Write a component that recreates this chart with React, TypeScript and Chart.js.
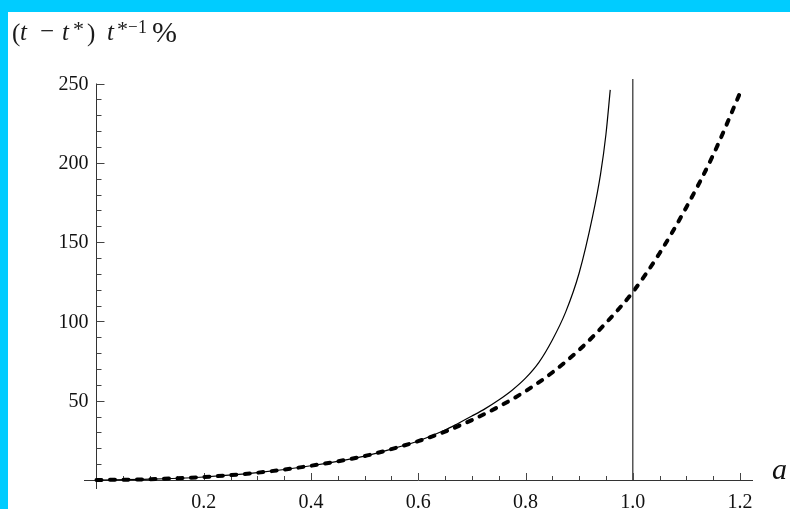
import React, { useEffect, useRef } from "react";
import { Chart, registerables } from "chart.js";

Chart.register(...registerables);

// ---- data ----
const DASHED_X = [0, 0.1, 0.2, 0.3, 0.4, 0.5, 0.55, 0.6, 0.65, 0.7, 0.75, 0.8, 0.85, 0.9, 0.95, 1.0, 1.05, 1.1, 1.15, 1.2];
const DASHED_Y = [0, 0.5, 1.9, 4.6, 9.0, 15.1, 19.5, 24.5, 30.5, 37.8, 46.2, 56, 67.8, 82, 99, 118.5, 143, 172, 205, 244];

const SOLID_X = [0, 0.1, 0.2, 0.3, 0.4, 0.5, 0.55, 0.6, 0.65, 0.675, 0.7, 0.725, 0.75, 0.775, 0.8, 0.825, 0.85, 0.875, 0.9, 0.925, 0.94, 0.95, 0.958];
const SOLID_Y = [0, 0.5, 1.9, 4.6, 9.0, 15.1, 19.5, 24.6, 31.5, 35.8, 40.3, 45, 50.4, 56.6, 64.2, 74.2, 88.3, 106, 130.5, 166, 193, 218, 246];

const VLINE_X = [1.0, 1.0];
const VLINE_Y = [0, 252.8];

const X_TICKS = [0.2, 0.4, 0.6, 0.8, 1.0, 1.2];
const X_TICK_LABELS = ["0.2", "0.4", "0.6", "0.8", "1.0", "1.2"];
const Y_TICKS = [50, 100, 150, 200, 250];
const Y_TICK_LABELS = ["50", "100", "150", "200", "250"];

const X_LABEL = "a";

const CYAN = "rgb(0,204,255)";
const SERIF = "'Liberation Serif', 'DejaVu Serif', serif";

const zip = (xs: number[], ys: number[]) => xs.map((x, i) => ({ x, y: ys[i] }));

const decorPlugin = {
  id: "decor",
  beforeDraw(chart: any) {
    const ctx = chart.ctx;
    ctx.save();
    ctx.fillStyle = CYAN;
    ctx.fillRect(0, 0, chart.width, chart.height);
    ctx.fillStyle = "#ffffff";
    ctx.fillRect(8, 12, chart.width - 8, chart.height - 12);
    ctx.restore();
  },
  beforeDatasetsDraw(chart: any) {
    const ctx = chart.ctx;
    const xs = chart.scales.x;
    const ys = chart.scales.y;
    const ca = chart.chartArea;
    const x0 = xs.getPixelForValue(0);
    const y0 = ys.getPixelForValue(0);
    ctx.save();
    ctx.strokeStyle = "#333";
    ctx.lineWidth = 1;
    // x axis
    ctx.beginPath();
    ctx.moveTo(ca.left, Math.round(y0) + 0.5);
    ctx.lineTo(ca.right, Math.round(y0) + 0.5);
    ctx.stroke();
    // y axis
    ctx.beginPath();
    ctx.moveTo(Math.round(x0) + 0.5, ys.getPixelForValue(250));
    ctx.lineTo(Math.round(x0) + 0.5, ca.bottom);
    ctx.stroke();
    // x ticks
    ctx.strokeStyle = "#444";
    for (let v = 0.05; v <= 1.2001; v += 0.05) {
      const isMajor = X_TICKS.some((t) => Math.abs(t - v) < 1e-6);
      const px = Math.round(xs.getPixelForValue(v)) + 0.5;
      ctx.beginPath();
      ctx.moveTo(px, y0);
      ctx.lineTo(px, y0 - (isMajor ? 7 : 4));
      ctx.stroke();
    }
    // y ticks
    for (let v = 10; v <= 250.001; v += 10) {
      const isMajor = Y_TICKS.some((t) => Math.abs(t - v) < 1e-6);
      const py = Math.round(ys.getPixelForValue(v)) + 0.5;
      ctx.beginPath();
      ctx.moveTo(x0, py);
      ctx.lineTo(x0 + (isMajor ? 8 : 5), py);
      ctx.stroke();
    }
    ctx.restore();
  },
  afterDraw(chart: any) {
    const ctx = chart.ctx;
    const xs = chart.scales.x;
    const ys = chart.scales.y;
    const x0 = xs.getPixelForValue(0);
    const y0 = ys.getPixelForValue(0);
    ctx.save();
    ctx.fillStyle = "#111";
    // tick labels
    ctx.font = `20px ${SERIF}`;
    ctx.textAlign = "center";
    ctx.textBaseline = "alphabetic";
    X_TICKS.forEach((v, i) => {
      ctx.fillText(X_TICK_LABELS[i], xs.getPixelForValue(v), 508);
    });
    ctx.textAlign = "right";
    ctx.textBaseline = "middle";
    Y_TICKS.forEach((v, i) => {
      ctx.fillText(Y_TICK_LABELS[i], x0 - 8, ys.getPixelForValue(v) + 1);
    });
    // x axis label
    ctx.textAlign = "left";
    ctx.textBaseline = "alphabetic";
    ctx.font = `italic 30px ${SERIF}`;
    ctx.fillText(X_LABEL, 772, y0 - 1);

    // title: (t − t*) t*−1%
    ctx.fillStyle = "#1a1a1a";
    const base = 40;
    const parts: [string, string, number, number][] = [
      ["(", `25px ${SERIF}`, 12, base + 1],
      ["t", `italic 25px ${SERIF}`, 20, base],
      ["\u2212", `25px ${SERIF}`, 40, base - 1],
      ["t", `italic 25px ${SERIF}`, 62, base],
      ["*", `22px ${SERIF}`, 73, 36],
      [")", `25px ${SERIF}`, 87, base + 1],
      ["t", `italic 25px ${SERIF}`, 107, base],
      ["*", `22px ${SERIF}`, 117, 36],
      ["\u2212", `17px ${SERIF}`, 128, 32],
      ["1", `18px ${SERIF}`, 138, 33],
      ["%", `30px ${SERIF}`, 152, base + 2],
    ];
    parts.forEach(([txt, font, x, y]) => {
      ctx.font = font;
      ctx.fillText(txt, x, y);
    });
    ctx.restore();
  },
};

export default function App() {
  const canvasRef = useRef<HTMLCanvasElement | null>(null);

  useEffect(() => {
    document.body.style.margin = "0";
    const canvas = canvasRef.current;
    if (!canvas) return;
    const chart = new Chart(canvas, {
      type: "scatter",
      data: {
        datasets: [
          {
            label: "vline",
            data: zip(VLINE_X, VLINE_Y),
            showLine: true,
            borderColor: "#555",
            borderWidth: 1.5,
            pointRadius: 0,
            clip: false as any,
          },
          {
            label: "solid",
            data: zip(SOLID_X, SOLID_Y),
            showLine: true,
            borderColor: "#000",
            borderWidth: 1.2,
            pointRadius: 0,
            cubicInterpolationMode: "monotone",
            clip: false as any,
          },
          {
            label: "dashed",
            data: zip(DASHED_X, DASHED_Y),
            showLine: true,
            borderColor: "#000",
            borderWidth: 4,
            borderDash: [5, 8.5],
            borderCapStyle: "round",
            pointRadius: 0,
            cubicInterpolationMode: "monotone",
            clip: false as any,
          },
        ],
      },
      options: {
        animation: false,
        responsive: false,
        maintainAspectRatio: false,
        layout: { padding: { left: 84, right: 37, top: 83.5, bottom: 20 } },
        plugins: { legend: { display: false }, tooltip: { enabled: false }, title: { display: false } },
        scales: {
          x: { type: "linear", display: false, min: -0.0233, max: 1.2242 },
          y: { type: "linear", display: false, min: -5.67, max: 250 },
        },
      },
      plugins: [decorPlugin],
    });
    return () => chart.destroy();
  }, []);

  return (
    <div style={{ position: "absolute", left: 0, top: 0, width: 790, height: 509 }}>
      <canvas ref={canvasRef} width={790} height={509} style={{ display: "block", width: 790, height: 509 }} />
    </div>
  );
}
